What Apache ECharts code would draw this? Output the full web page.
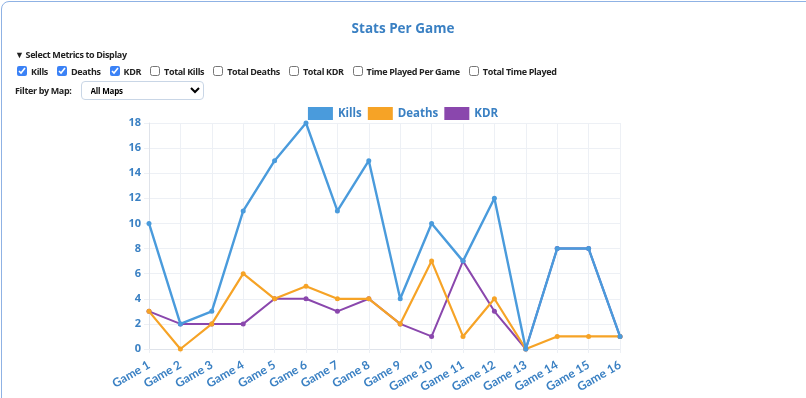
<!DOCTYPE html>
<html>
<head>
<meta charset="utf-8">
<script src="https://cdn.jsdelivr.net/npm/echarts@6/dist/echarts.min.js"></script>
<style>
  html, body { margin: 0; padding: 0; background: #fff; }
  body { width: 806px; height: 398px; overflow: hidden; position: relative; font-family: "Open Sans", Lato, sans-serif; }
  .card { position: absolute; left: 1px; top: 1px; width: 840px; height: 440px; border: 1px solid #8fb2e4; border-radius: 8px; }
  #chart { position: absolute; left: 0; top: 0; width: 806px; height: 398px; }
  .controls { position: absolute; left: 15px; top: 48px; z-index: 2; font-size: 9px; font-weight: 700; color: #222; letter-spacing: -0.35px; }
  .summary { height: 14px; line-height: 14px; }
  .row { display: flex; align-items: center; height: 16px; margin-top: 1px; }
  .row label { display: flex; align-items: center; margin-right: 7px; white-space: nowrap; }
  .row input { width: 10px; height: 10px; margin: 0 4px 0 2px; accent-color: #3b82f6; }
  .filter { display: flex; align-items: center; margin-top: 2px; }
  .filter span { margin-right: 9px; }
  .filter select { width: 123px; height: 19px; font-size: 8px; font-weight: 700; border: 1px solid #c9d6e6; border-radius: 4px; background: #fff; padding-left: 5px; font-family: inherit; letter-spacing: -0.2px; }
</style>
</head>
<body>
<div class="card"></div>
<div id="chart"></div>
<div class="controls">
  <div class="summary">▼ Select Metrics to Display</div>
  <div class="row">
    <label><input type="checkbox" checked>Kills</label>
    <label><input type="checkbox" checked>Deaths</label>
    <label><input type="checkbox" checked>KDR</label>
    <label><input type="checkbox">Total Kills</label>
    <label><input type="checkbox">Total Deaths</label>
    <label><input type="checkbox">Total KDR</label>
    <label><input type="checkbox">Time Played Per Game</label>
    <label><input type="checkbox">Total Time Played</label>
  </div>
  <div class="filter"><span>Filter by Map:</span><select><option>All Maps</option></select></div>
</div>
<script>
const games = ['Game 1', 'Game 2', 'Game 3', 'Game 4', 'Game 5', 'Game 6', 'Game 7', 'Game 8',
               'Game 9', 'Game 10', 'Game 11', 'Game 12', 'Game 13', 'Game 14', 'Game 15', 'Game 16']
const kills  = [10, 2, 3, 11, 15, 18, 11, 15, 4, 10, 7, 12, 0, 8, 8, 1]
const deaths = [3, 0, 2, 6, 4, 5, 4, 4, 2, 7, 1, 4, 0, 1, 1, 1]
const kdr    = [3, 2, 2, 2, 4, 4, 3, 4, 2, 1, 7, 3, 0, 8, 8, 1]

const labelBlue = '#3a80c3'
const gridCol = '#edf0f5'

const chart = echarts.init(document.getElementById('chart'))

function line(name, data, color, z, width) {
  return {
    name: name,
    type: 'line',
    data: data,
    z: z,
    symbol: 'circle',
    symbolSize: 5,
    lineStyle: { color: color, width: width },
    itemStyle: { color: color },
    emphasis: { disabled: true }
  }
}

chart.setOption({
  animation: false,
  title: {
    text: 'Stats Per Game',
    left: 'center',
    top: 17,
    textStyle: { color: labelBlue, fontSize: 13.5, fontWeight: 'bold', fontFamily: 'Open Sans' }
  },
  legend: {
    top: 102,
    left: 'center',
    itemWidth: 25,
    itemHeight: 13,
    itemGap: 6,
    icon: 'rect',
    textStyle: { color: labelBlue, fontSize: 11.5, fontWeight: 'bold', fontFamily: 'Open Sans' },
    data: ['Kills', 'Deaths', 'KDR']
  },
  grid: { left: 149, right: 186, top: 123, height: 226, containLabel: false },
  xAxis: {
    type: 'category',
    data: games,
    boundaryGap: false,
    axisLine: { lineStyle: { color: '#dfe3ea' } },
    axisTick: { show: true, length: 4, lineStyle: { color: gridCol } },
    splitLine: { show: true, lineStyle: { color: gridCol } },
    axisLabel: {
      rotate: 30, margin: 15, color: labelBlue, fontSize: 12, fontWeight: 'bold',
      fontFamily: 'Lato', interval: 0
    }
  },
  yAxis: {
    type: 'value',
    min: 0, max: 18, interval: 2,
    axisLine: { show: true, lineStyle: { color: '#dfe3ea' } },
    axisTick: { show: true, length: 5, lineStyle: { color: gridCol } },
    splitLine: { lineStyle: { color: gridCol } },
    axisLabel: { color: labelBlue, fontSize: 11, fontWeight: 'bold', fontFamily: 'Open Sans', margin: 8 }
  },
  series: [
    line('Kills', kills, '#4a9bdc', 5, 2.4),
    line('Deaths', deaths, '#f6a326', 4, 2.2),
    line('KDR', kdr, '#8a47ad', 3, 2)
  ]
})
</script>
</body>
</html>
